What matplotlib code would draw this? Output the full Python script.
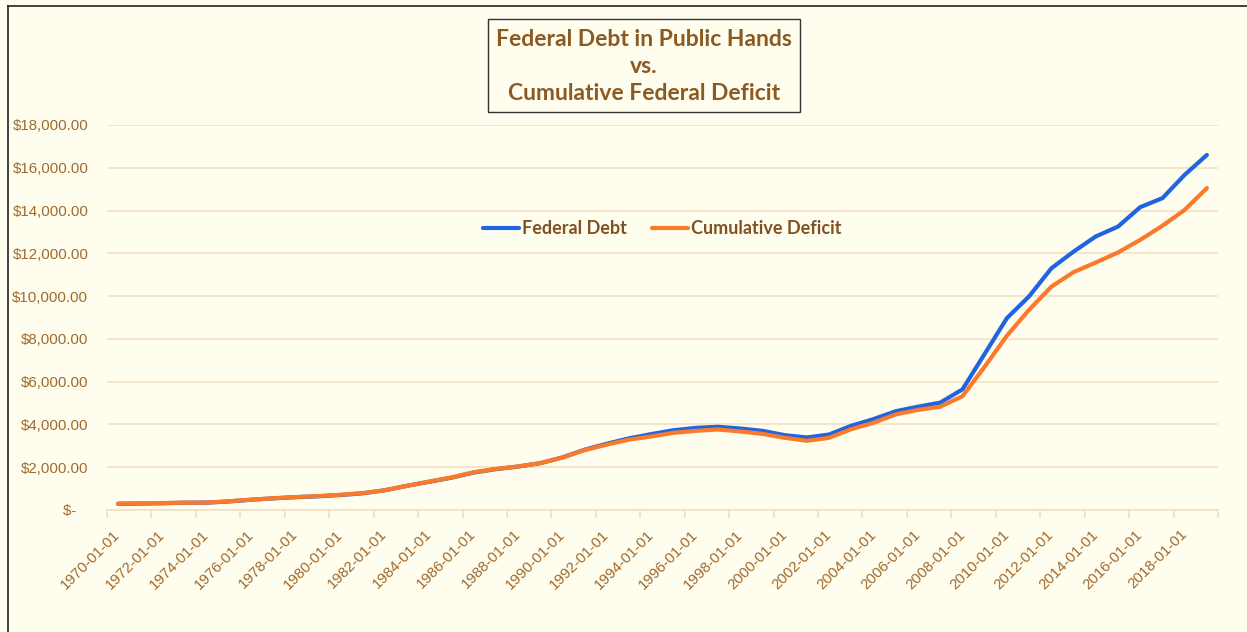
import matplotlib
matplotlib.use("Agg")
import matplotlib.pyplot as plt
from matplotlib.lines import Line2D
from matplotlib.patches import Rectangle
from matplotlib.ticker import FuncFormatter, FixedLocator

years = list(range(1970, 2020))
tick_labels = [f"{y}-01-01" for y in years]

federal_debt = [290, 300, 315, 340, 345, 400, 480, 545, 600, 640,
                700, 780, 920, 1130, 1320, 1510, 1750, 1910, 2030, 2190,
                2460, 2820, 3100, 3350, 3550, 3730, 3840, 3890, 3810, 3700,
                3500, 3390, 3530, 3940, 4250, 4620, 4830, 5020, 5640, 7300,
                8970, 9990, 11300, 12080, 12790, 13250, 14160, 14580, 15670, 16600]
cumulative_deficit = [300, 310, 325, 345, 345, 410, 485, 550, 605, 650,
                      710, 790, 925, 1130, 1330, 1520, 1765, 1920, 2035, 2190,
                      2450, 2800, 3060, 3290, 3440, 3610, 3700, 3765, 3670, 3560,
                      3375, 3235, 3375, 3780, 4080, 4470, 4680, 4830, 5320, 6700,
                      8150, 9360, 10440, 11120, 11570, 12040, 12630, 13290, 14030, 15050]

BG = "#FFFDEE"
TXT = "#A06A2C"
TITLE = "#8B5A22"
GRID = "#F5E0C3"
BLUE = "#1F64E0"
ORANGE = "#FA7A2A"

W, H = 1247, 632
fig = plt.figure(figsize=(W / 100, H / 100), dpi=100, facecolor=BG)
ax = fig.add_axes([107 / W, 1 - 510 / H, (1218 - 107) / W, (510 - 125) / H], facecolor=BG)

x = list(range(len(years)))
ax.plot(x, federal_debt, color=BLUE, lw=3.0, label="Federal Debt", solid_capstyle="round", zorder=3)
ax.plot(x, cumulative_deficit, color=ORANGE, lw=3.0, label="Cumulative Deficit", solid_capstyle="round", zorder=4)

ax.set_xlim(-0.5, len(years) - 0.5)
ax.set_ylim(0, 18000)
ax.set_yticks(range(0, 18001, 2000))
ax.yaxis.set_major_formatter(FuncFormatter(lambda v, p: "$-   " if v == 0 else f"${v:,.2f}"))
ax.grid(axis="y", color=GRID, lw=1.2, zorder=0)

ax.xaxis.set_major_locator(FixedLocator(x[::2]))
ax.set_xticklabels(tick_labels[::2])
ax.xaxis.set_minor_locator(FixedLocator([i - 0.5 for i in range(0, len(years) + 1, 2)]))
ax.tick_params(axis="x", which="major", length=0, pad=16, labelsize=10.8, labelcolor=TXT)
ax.tick_params(axis="x", which="minor", length=6, color=GRID, width=1.2)
ax.tick_params(axis="y", length=0, pad=13.5, labelsize=10.8, labelcolor=TXT)
for lbl in ax.get_xticklabels():
    lbl.set_rotation(45)
    lbl.set_ha("right")
    lbl.set_va("center")
    lbl.set_rotation_mode("anchor")
    lbl.set_fontfamily("Liberation Sans")
for lbl in ax.get_yticklabels():
    lbl.set_fontfamily("Liberation Sans")

for s in ["left", "right", "top"]:
    ax.spines[s].set_visible(False)
ax.spines["bottom"].set_color(GRID)
ax.spines["bottom"].set_linewidth(1.2)

leg = ax.legend(loc="center", bbox_to_anchor=(0.4996, 0.73), ncol=2, frameon=False,
                handlelength=2.0, handletextpad=0.15, columnspacing=1.4,
                prop={"family": "Lato", "weight": "bold", "size": 13})
for t in leg.get_texts():
    t.set_color("#7E5222")

# title box
fig.add_artist(Rectangle((488 / W, 1 - 112 / H), (800 - 488) / W, (112 - 19) / H,
                         transform=fig.transFigure, fill=False, edgecolor="#333333", lw=1.0))
fig.text(644 / W, 1 - 66.5 / H, "Federal Debt in Public Hands\nvs.\nCumulative Federal Deficit",
         ha="center", va="center", multialignment="center", color=TITLE,
         fontsize=16.5, fontweight="bold", family="Lato", linespacing=1.33)

# outer chart border (left and top)
fig.add_artist(Line2D([8 / W, 8 / W], [0, 1 - 6 / H], transform=fig.transFigure, color="#222222", lw=1.2))
fig.add_artist(Line2D([8 / W, 1], [1 - 6 / H, 1 - 6 / H], transform=fig.transFigure, color="#222222", lw=1.2))

fig.savefig("out.png", dpi=100, facecolor=BG)
